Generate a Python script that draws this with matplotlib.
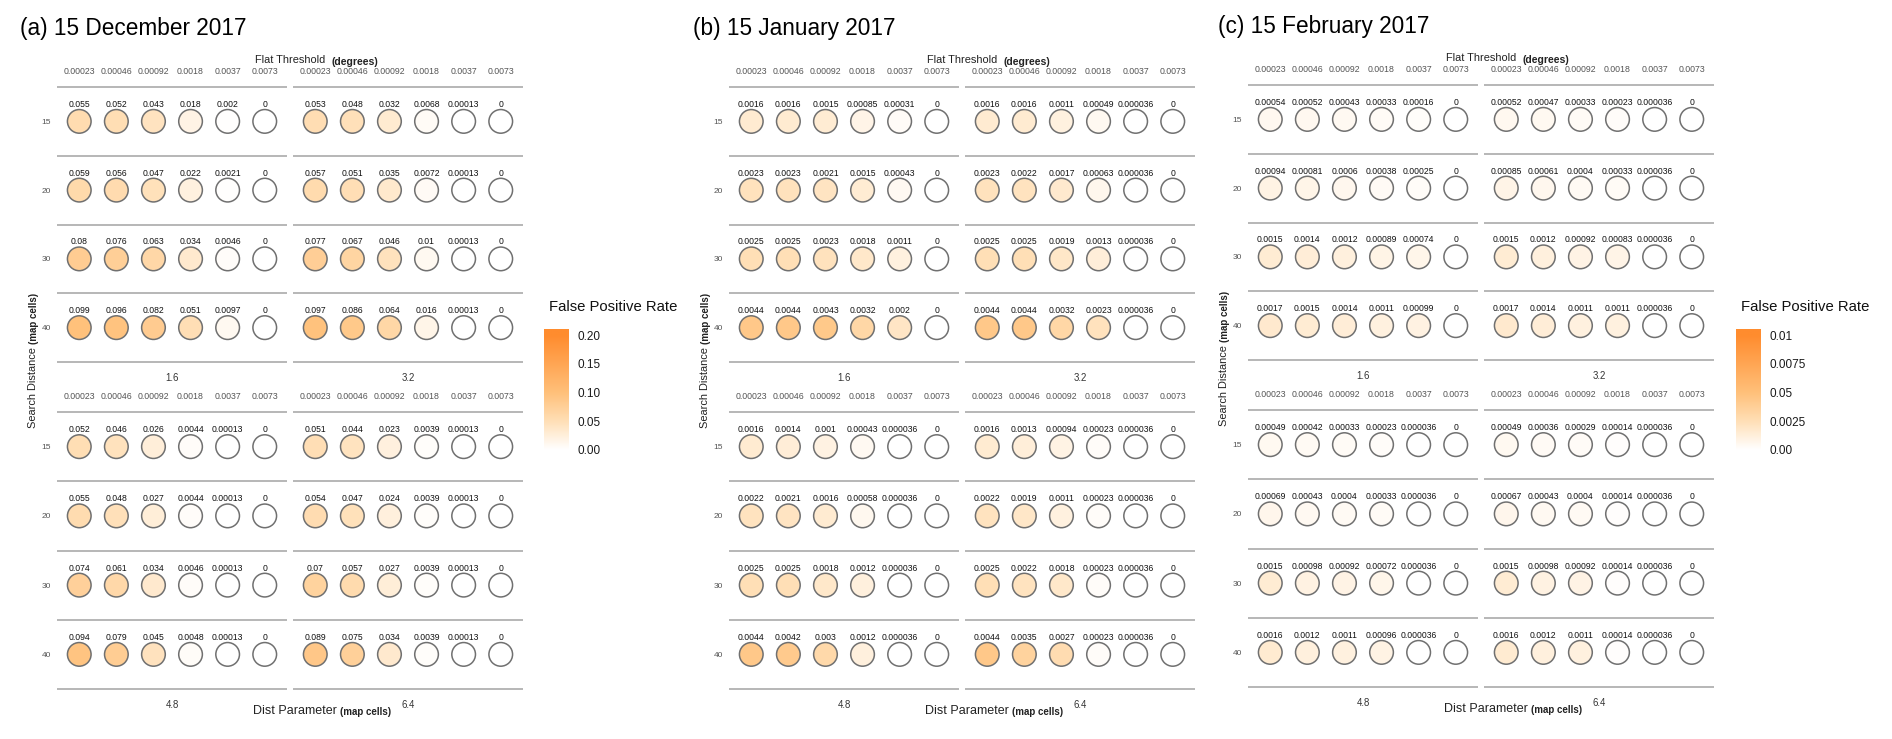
import numpy as np
import matplotlib
matplotlib.use('Agg')
import matplotlib.pyplot as plt
from matplotlib.colors import LinearSegmentedColormap, Normalize

plt.rcParams['font.family'] = ['Liberation Sans', 'DejaVu Sans']

# ---- data ----
FLAT = [0.00023, 0.00046, 0.00092, 0.0018, 0.0037, 0.0073]   # flat threshold (degrees)
SEARCH = [15, 20, 30, 40]                                    # search distance (map cells)
DIST = [1.6, 3.2, 4.8, 6.4]                                  # dist parameter (map cells)

dec_16 = [[0.055, 0.052, 0.043, 0.018, 0.002, 0],
          [0.059, 0.056, 0.047, 0.022, 0.0021, 0],
          [0.08, 0.076, 0.063, 0.034, 0.0046, 0],
          [0.099, 0.096, 0.082, 0.051, 0.0097, 0]]
dec_32 = [[0.053, 0.048, 0.032, 0.0068, 0.00013, 0],
          [0.057, 0.051, 0.035, 0.0072, 0.00013, 0],
          [0.077, 0.067, 0.046, 0.01, 0.00013, 0],
          [0.097, 0.086, 0.064, 0.016, 0.00013, 0]]
dec_48 = [[0.052, 0.046, 0.026, 0.0044, 0.00013, 0],
          [0.055, 0.048, 0.027, 0.0044, 0.00013, 0],
          [0.074, 0.061, 0.034, 0.0046, 0.00013, 0],
          [0.094, 0.079, 0.045, 0.0048, 0.00013, 0]]
dec_64 = [[0.051, 0.044, 0.023, 0.0039, 0.00013, 0],
          [0.054, 0.047, 0.024, 0.0039, 0.00013, 0],
          [0.07, 0.057, 0.027, 0.0039, 0.00013, 0],
          [0.089, 0.075, 0.034, 0.0039, 0.00013, 0]]

jan_16 = [[0.0016, 0.0016, 0.0015, 0.00085, 0.00031, 0],
          [0.0023, 0.0023, 0.0021, 0.0015, 0.00043, 0],
          [0.0025, 0.0025, 0.0023, 0.0018, 0.0011, 0],
          [0.0044, 0.0044, 0.0043, 0.0032, 0.002, 0]]
jan_32 = [[0.0016, 0.0016, 0.0011, 0.00049, 0.000036, 0],
          [0.0023, 0.0022, 0.0017, 0.00063, 0.000036, 0],
          [0.0025, 0.0025, 0.0019, 0.0013, 0.000036, 0],
          [0.0044, 0.0044, 0.0032, 0.0023, 0.000036, 0]]
jan_48 = [[0.0016, 0.0014, 0.001, 0.00043, 0.000036, 0],
          [0.0022, 0.0021, 0.0016, 0.00058, 0.000036, 0],
          [0.0025, 0.0025, 0.0018, 0.0012, 0.000036, 0],
          [0.0044, 0.0042, 0.003, 0.0012, 0.000036, 0]]
jan_64 = [[0.0016, 0.0013, 0.00094, 0.00023, 0.000036, 0],
          [0.0022, 0.0019, 0.0011, 0.00023, 0.000036, 0],
          [0.0025, 0.0022, 0.0018, 0.00023, 0.000036, 0],
          [0.0044, 0.0035, 0.0027, 0.00023, 0.000036, 0]]

feb_16 = [[0.00054, 0.00052, 0.00043, 0.00033, 0.00016, 0],
          [0.00094, 0.00081, 0.0006, 0.00038, 0.00025, 0],
          [0.0015, 0.0014, 0.0012, 0.00089, 0.00074, 0],
          [0.0017, 0.0015, 0.0014, 0.0011, 0.00099, 0]]
feb_32 = [[0.00052, 0.00047, 0.00033, 0.00023, 0.000036, 0],
          [0.00085, 0.00061, 0.0004, 0.00033, 0.000036, 0],
          [0.0015, 0.0012, 0.00092, 0.00083, 0.000036, 0],
          [0.0017, 0.0014, 0.0011, 0.0011, 0.000036, 0]]
feb_48 = [[0.00049, 0.00042, 0.00033, 0.00023, 0.000036, 0],
          [0.00069, 0.00043, 0.0004, 0.00033, 0.000036, 0],
          [0.0015, 0.00098, 0.00092, 0.00072, 0.000036, 0],
          [0.0016, 0.0012, 0.0011, 0.00096, 0.000036, 0]]
feb_64 = [[0.00049, 0.00036, 0.00029, 0.00014, 0.000036, 0],
          [0.00067, 0.00043, 0.0004, 0.00014, 0.000036, 0],
          [0.0015, 0.00098, 0.00092, 0.00014, 0.000036, 0],
          [0.0016, 0.0012, 0.0011, 0.00014, 0.000036, 0]]

cbar_a_ticks = [0.2, 0.15, 0.1, 0.05, 0.0]
cbar_a_labels = ['0.20', '0.15', '0.10', '0.05', '0.00']
cbar_c_ticks = [0.01, 0.0075, 0.005, 0.0025, 0.0]
cbar_c_labels = ['0.01', '0.0075', '0.05', '0.0025', '0.00']

# ---- layout (pixels) ----
W, H = 1892, 739
fig = plt.figure(figsize=(W / 100, H / 100), dpi=100)

cmap = LinearSegmentedColormap.from_list(
    'fpr', [(0, '#FFFFFF'), (0.25, '#FFDFB6'), (0.5, '#FFC07A'), (0.75, '#FFA654'), (1, '#FF8C2E')])
norm_a = Normalize(0, 0.2)
norm_bc = Normalize(0, 0.01)


def box(x0, y0, x1, y1):
    return [x0 / W, 1 - y1 / H, (x1 - x0) / W, (y1 - y0) / H]


def fxy(x, y):
    return x / W, 1 - y / H


def fmt(v):
    if v == 0:
        return '0'
    return np.format_float_positional(v, precision=2, fractional=False, trim='-')


def facet(left, top, bottom, vals, norm, show_rows, strip):
    vals = np.asarray(vals, dtype=float)
    ax = fig.add_axes(box(left, top, left + 230, bottom))
    ax.set_xlim(-0.6, 5.6)
    ax.set_ylim(3.5, -0.5)
    for s in ax.spines.values():
        s.set_visible(False)
    ax.hlines(np.arange(-0.5, 4), -0.6, 5.6, color='#A3A3A3', lw=1.1, clip_on=False)
    cols, rows = np.meshgrid(np.arange(6), np.arange(4))
    ax.scatter(cols.ravel(), rows.ravel(), c=vals.ravel(), cmap=cmap, norm=norm, s=290,
               edgecolors='#707070', linewidths=1.1, clip_on=False, zorder=3)
    for (r, c), v in np.ndenumerate(vals):
        ax.annotate(fmt(v), (c, r), xytext=(0, 12.2), textcoords='offset points',
                    ha='center', va='center', fontsize=6.2, color='#111111')
    ax.xaxis.tick_top()
    ax.set_xticks(range(6), [fmt(v) for v in FLAT])
    ax.set_yticks(range(4), [str(s) for s in SEARCH] if show_rows else [])
    ax.tick_params(axis='x', length=0, labelsize=6.3, labelcolor='#555555', pad=8)
    ax.tick_params(axis='y', length=0, labelsize=6.0, labelcolor='#555555', pad=4.5)
    ax.annotate(strip, (0.5, 0), xycoords='axes fraction', xytext=(0, -11.5),
                textcoords='offset points', ha='center', va='center', fontsize=6.9, color='#333333')
    return ax


def panel(title, title_x, x0, dy, data, norm):
    fig.text(*fxy(title_x, 29 + dy), title, fontsize=16.3, ha='left', va='center')
    lefts = [x0, x0 + 236, x0, x0 + 236]
    tops = [87, 87, 412, 412]
    bottoms = [362, 362, 689, 689]
    for k in range(4):
        facet(lefts[k], tops[k] + dy, bottoms[k] + dy, data[k], norm, k % 2 == 0, fmt(DIST[k]))
    # axis titles
    fig.text(*fxy(x0 + 198, 60 + dy), 'Flat Threshold', fontsize=7.9, color='#222222', ha='left', va='center')
    fig.text(*fxy(x0 + 274, 62 + dy), '(degrees)', fontsize=7.6, fontweight='bold', color='#222222',
             ha='left', va='center')
    fig.text(*fxy(x0 + 196, 711 + dy), 'Dist Parameter', fontsize=9, color='#222222', ha='left', va='center')
    fig.text(*fxy(x0 + 283, 712 + dy), '(map cells)', fontsize=7, fontweight='bold', color='#222222',
             ha='left', va='center')
    fig.text(*fxy(x0 - 24, 428 + dy), 'Search Distance', fontsize=7.9, color='#222222', rotation=90,
             rotation_mode='anchor', ha='left', va='center')
    fig.text(*fxy(x0 - 23, 344 + dy), '(map cells)', fontsize=7, fontweight='bold', color='#222222',
             rotation=90, rotation_mode='anchor', ha='left', va='center')


def colorbar(x, norm, ticks, labels):
    lo, hi = norm.vmin, norm.vmax
    span = hi - lo
    y_lo = lo - span * 3 / 115
    y_hi = hi + span * 6 / 115
    cax = fig.add_axes(box(x, 329, x + 25, 453))
    grad = np.linspace(y_lo, y_hi, 256)[:, None]
    cax.imshow(grad, aspect='auto', cmap=cmap, norm=norm, origin='lower', extent=(0, 1, y_lo, y_hi))
    cax.set_xlim(0, 1)
    cax.set_ylim(y_lo, y_hi)
    for s in cax.spines.values():
        s.set_visible(False)
    cax.set_xticks([])
    cax.yaxis.tick_right()
    cax.set_yticks(ticks, labels)
    cax.tick_params(axis='y', length=0, labelsize=8.5, labelcolor='#1A1A1A', pad=6)
    fig.text(*fxy(x + 5, 307), 'False Positive Rate', fontsize=10.7, color='#111111', ha='left', va='center')


panel('(a) 15 December 2017', 20, 57, 0, [dec_16, dec_32, dec_48, dec_64], norm_a)
panel('(b) 15 January 2017', 693, 729, 0, [jan_16, jan_32, jan_48, jan_64], norm_bc)
panel('(c) 15 February 2017', 1218, 1248, -2, [feb_16, feb_32, feb_48, feb_64], norm_bc)

colorbar(544, norm_a, cbar_a_ticks, cbar_a_labels)
colorbar(1736, norm_bc, cbar_c_ticks, cbar_c_labels)

fig.savefig('out.png', dpi=100)
